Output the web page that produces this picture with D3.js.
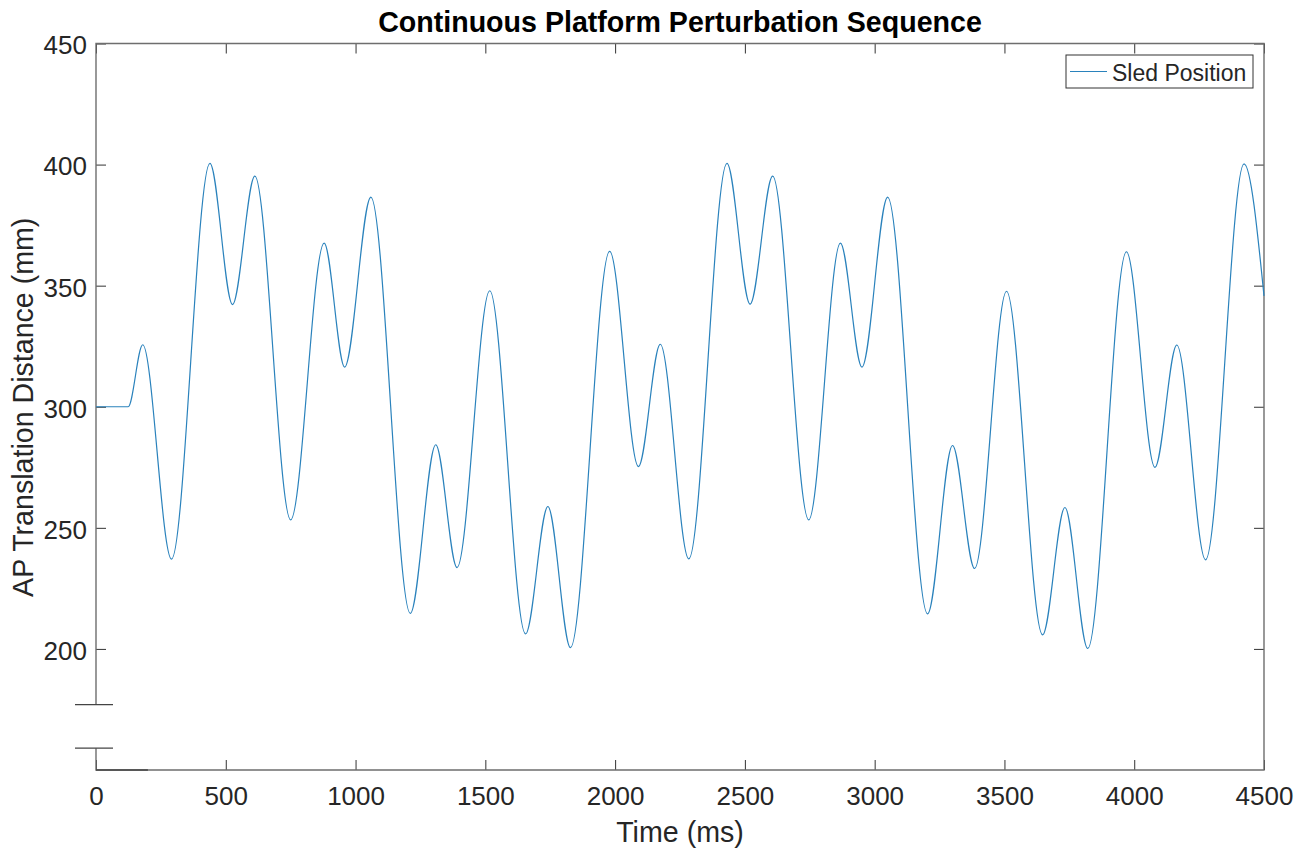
<!DOCTYPE html>
<html>
<head>
<meta charset="utf-8">
<script src="https://cdn.jsdelivr.net/npm/d3@7"></script>
<style>
  body { margin: 0; background: #fff; }
  svg text { font-family: 'Liberation Sans', Arial, Helvetica, sans-serif; fill: #262626; }
</style>
</head>
<body>
<svg width="1307" height="853"></svg>
<script>
// turning points of the sled trace (ms, mm)
const timeMs = [0, 124, 180, 291, 439, 526, 612, 750, 879, 958, 1059,
  1211, 1309, 1391, 1517, 1655, 1741, 1828, 1979, 2090, 2174, 2284,
  2431, 2520, 2607, 2746, 2868, 2951, 3050, 3204, 3300, 3385, 3508,
  3647, 3733, 3821, 3970, 4080, 4164, 4275, 4423, 4500];
const sledPos = [300, 300, 325.6, 237.1, 400.5, 342.2, 395.2, 253.3, 367.6, 316.4, 386.6,
  214.7, 284.3, 233.6, 347.9, 206.2, 258.8, 200.5, 364.2, 275.3, 325.8, 237.2,
  400.5, 342.4, 395.2, 253.3, 367.6, 316.4, 386.6, 214.5, 284, 233.2, 347.7,
  205.8, 258.4, 200.2, 364, 275, 325.5, 236.8, 400.3, 345.8];

const xTicks = [0, 500, 1000, 1500, 2000, 2500, 3000, 3500, 4000, 4500];
const yTicks = [200, 250, 300, 350, 400, 450];
const yBreak = [159, 177];

const svg = d3.select('svg');
const plotL = 96, plotR = 1264, plotT = 43.5, plotB = 770;
const lineColor = '#2a82bc';
const fontFam = "'Liberation Sans', Arial, Helvetica, sans-serif";

const x = d3.scaleLinear().domain([0, 4500]).range([plotL, plotR]);
const y = d3.scaleLinear().domain([150, 450]).range([plotB, plotT]);

const data = timeMs.map((t, i) => ({ t, v: sledPos[i] }));

// ticks pointing inwards, MATLAB style
svg.append('g')
  .attr('transform', `translate(0,${plotB})`)
  .call(d3.axisBottom(x).tickValues(xTicks).tickFormat(d3.format('d'))
    .tickSizeInner(-10).tickSizeOuter(0).tickPadding(17))
  .call(g => g.select('.domain').remove())
  .call(g => g.selectAll('text').attr('font-size', 26).attr('font-family', fontFam));

svg.append('g')
  .attr('transform', `translate(0,${plotT})`)
  .call(d3.axisTop(x).tickValues(xTicks).tickSizeInner(-10).tickSizeOuter(0).tickFormat(''))
  .call(g => g.select('.domain').remove());

svg.append('g')
  .attr('transform', `translate(${plotL},0)`)
  .call(d3.axisLeft(y).tickValues(yTicks).tickFormat(d3.format('d'))
    .tickSizeInner(-10).tickSizeOuter(0).tickPadding(9))
  .call(g => g.select('.domain').remove())
  .call(g => g.selectAll('text').attr('font-size', 26).attr('dy', '0.4em').attr('font-family', fontFam));

svg.append('g')
  .attr('transform', `translate(${plotR},0)`)
  .call(d3.axisRight(y).tickValues(yTicks).tickSizeInner(-10).tickSizeOuter(0).tickFormat(''))
  .call(g => g.select('.domain').remove());

svg.selectAll('.tick line').attr('stroke', '#333');

// axis box with a break near the bottom of the left edge
const box = svg.append('g').attr('stroke', '#6e6e6e').attr('stroke-width', 1.4).attr('fill', 'none');
box.append('path').attr('d', `M${plotL},${y(yBreak[1])}V${plotT}H${plotR}V${plotB}H${plotL}V${y(yBreak[0])}`);

const brk = svg.append('g').attr('stroke', '#444').attr('stroke-width', 1.3);
yBreak.forEach(v => {
  brk.append('line')
    .attr('x1', plotL - 21).attr('x2', plotL + 17)
    .attr('y1', y(v)).attr('y2', y(v));
});
brk.append('line')
  .attr('x1', plotL).attr('x2', x(200))
  .attr('y1', plotB).attr('y2', plotB);

// sled trace
const line = d3.line()
  .x(d => x(d.t))
  .y(d => y(d.v))
  .curve(d3.curveMonotoneX);

svg.append('path')
  .datum(data)
  .attr('fill', 'none')
  .attr('stroke', lineColor)
  .attr('stroke-width', 1.2)
  .attr('d', line);

// titles
svg.append('text')
  .attr('x', (plotL + plotR) / 2).attr('y', 31.5)
  .attr('text-anchor', 'middle')
  .attr('font-size', 28.6).attr('font-weight', 'bold')
  .style('fill', '#000')
  .text('Continuous Platform Perturbation Sequence');

svg.append('text')
  .attr('x', (plotL + plotR) / 2).attr('y', 841.5)
  .attr('text-anchor', 'middle')
  .attr('font-size', 28.6)
  .text('Time (ms)');

svg.append('text')
  .attr('transform', `translate(33,${(plotT + plotB) / 2 + 0.5}) rotate(-90)`)
  .attr('text-anchor', 'middle')
  .attr('font-size', 28.6)
  .text('AP Translation Distance (mm)');

// legend
const legend = svg.append('g').attr('transform', 'translate(1066,55)');
legend.append('rect')
  .attr('width', 187).attr('height', 33)
  .attr('fill', '#fff').attr('stroke', '#333').attr('stroke-width', 1);
legend.append('line')
  .attr('x1', 4).attr('x2', 41).attr('y1', 16.5).attr('y2', 16.5)
  .attr('stroke', lineColor).attr('stroke-width', 1.2);
legend.append('text')
  .attr('x', 46).attr('y', 26)
  .attr('font-size', 23)
  .text('Sled Position');
</script>
</body>
</html>
